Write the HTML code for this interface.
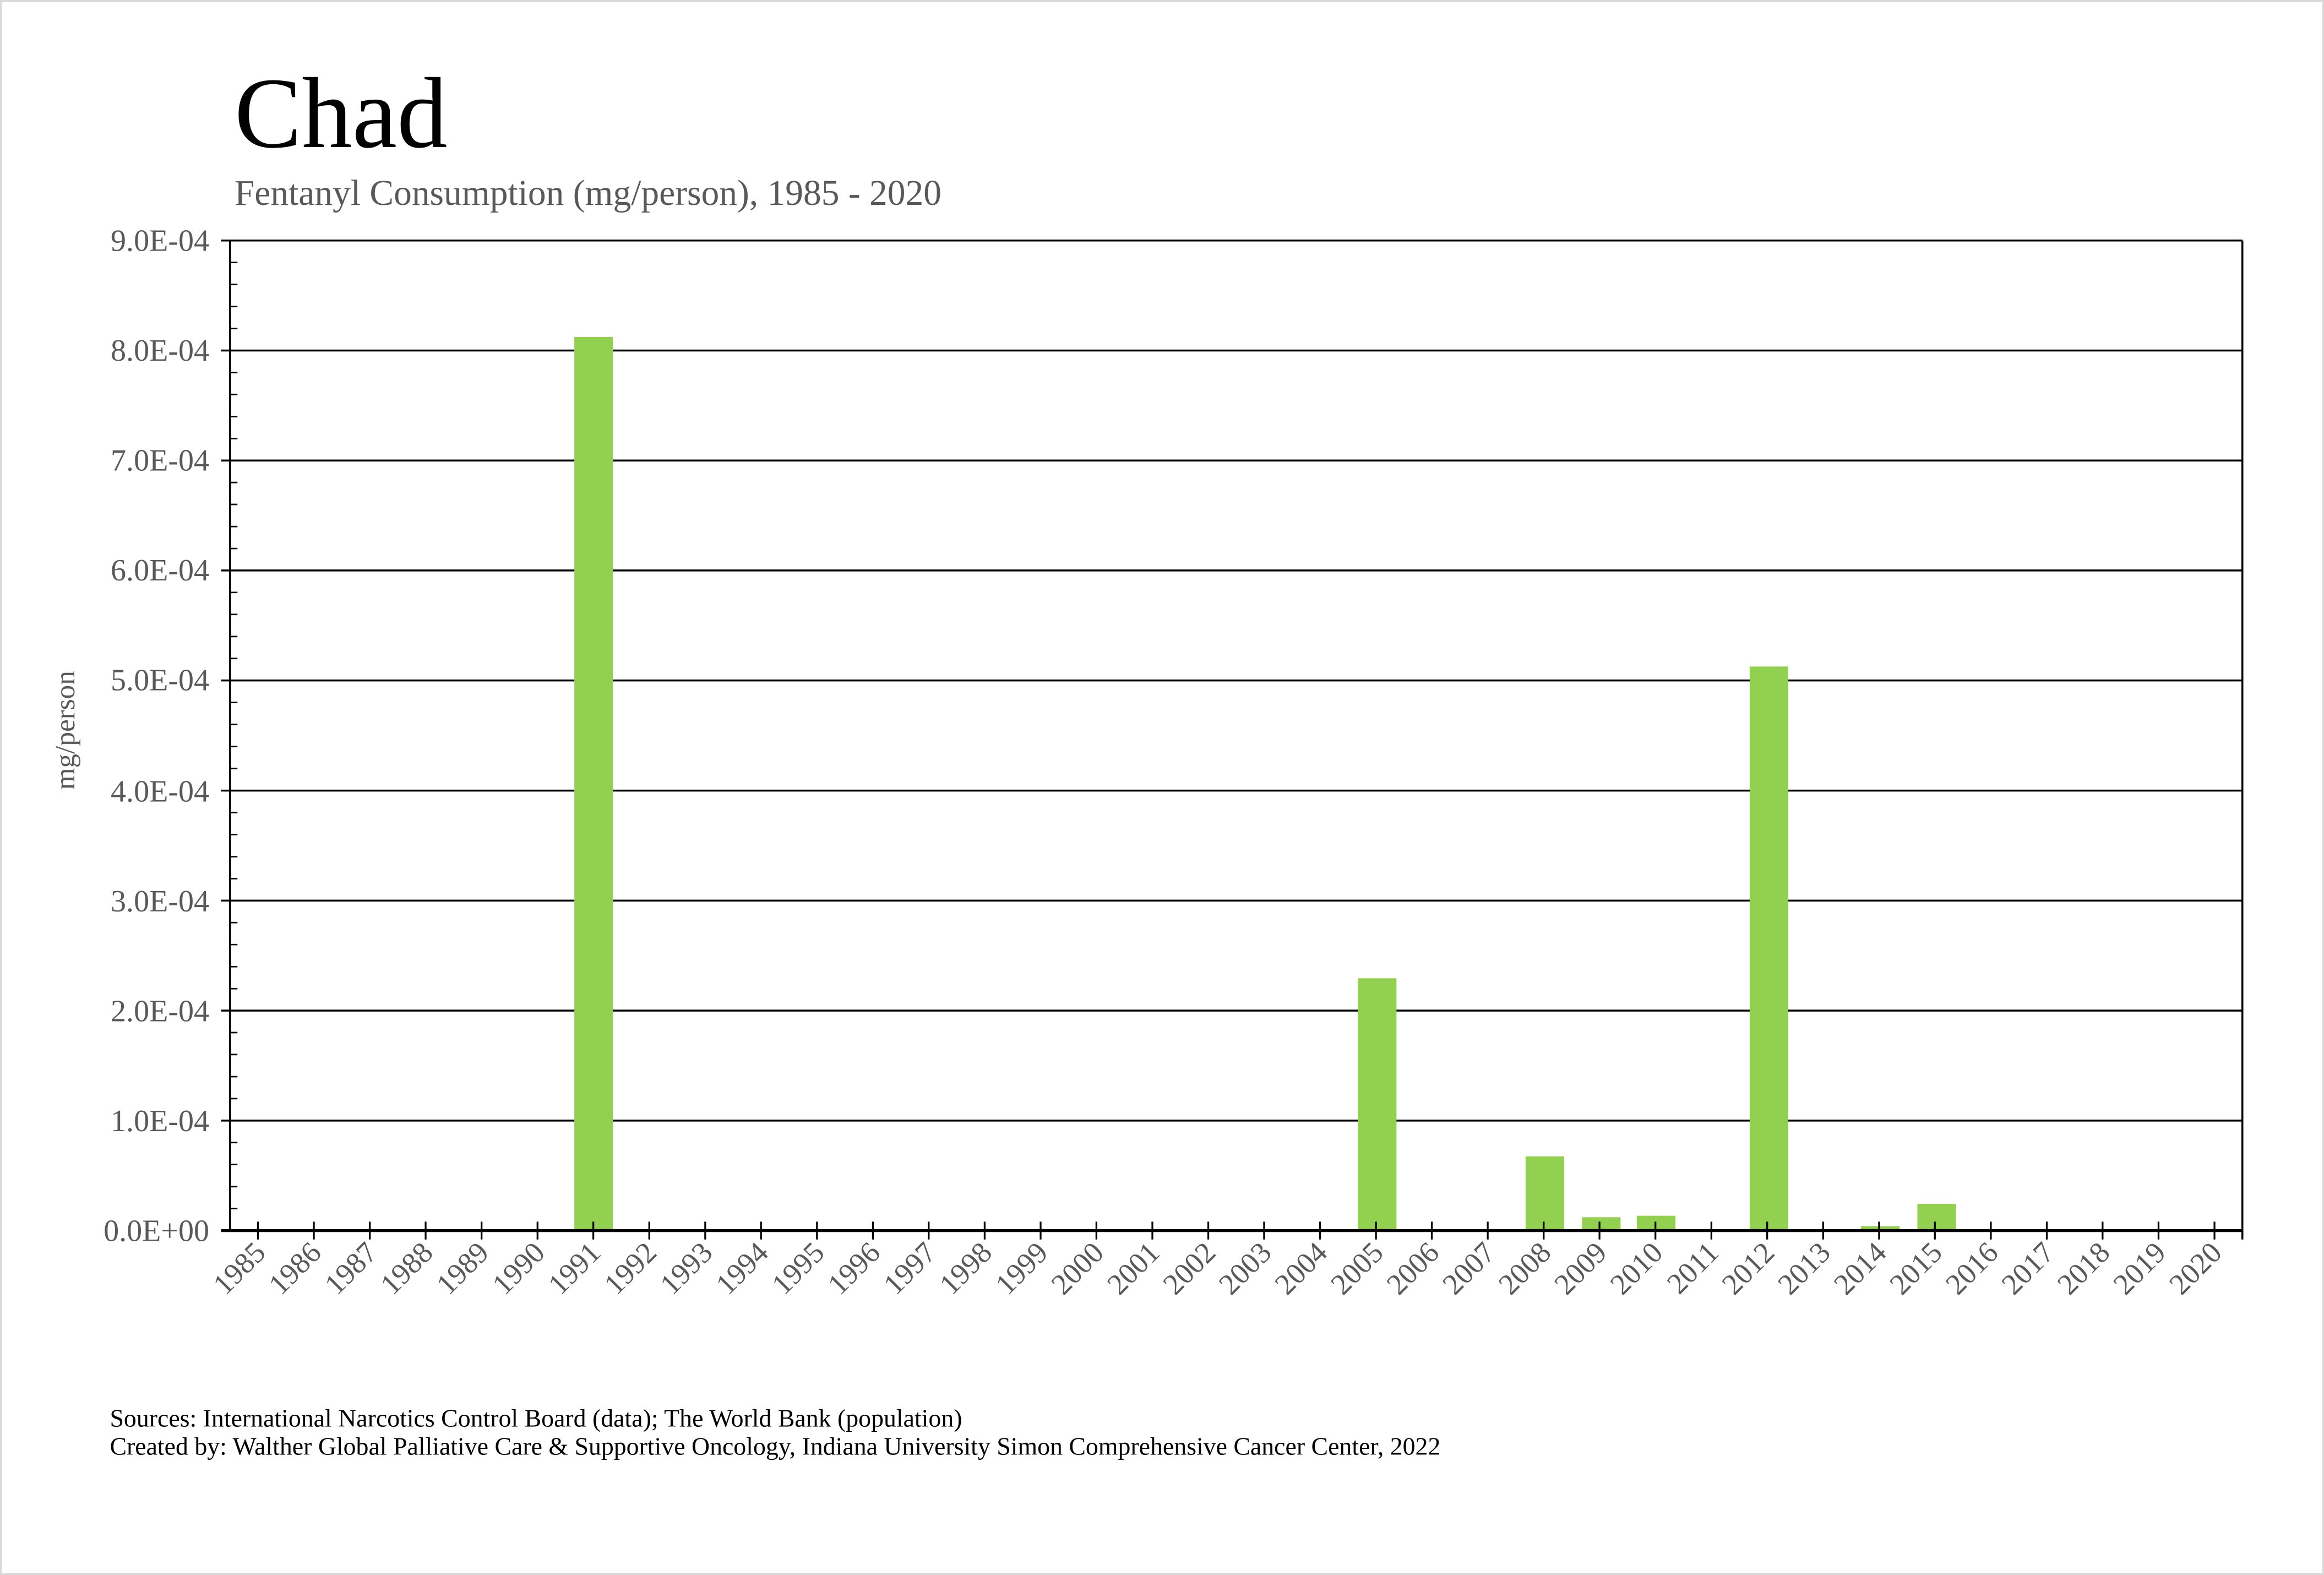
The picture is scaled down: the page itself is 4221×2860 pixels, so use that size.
<!DOCTYPE html>
<html><head><meta charset="utf-8"><style>
html,body{margin:0;padding:0;background:#fff;}
svg{display:block;}
text{font-family:"Liberation Serif",serif;}
</style></head><body>
<svg width="4221" height="2860" viewBox="0 0 1566 1061" xmlns="http://www.w3.org/2000/svg">
<rect x="0.5" y="0.5" width="1565" height="1060" fill="#fff" stroke="#d9d9d9" stroke-width="1.5"/>
<text x="158" y="99" font-size="68" fill="#000">Chad</text>
<text x="158" y="138" font-size="24.3" fill="#595959">Fentanyl Consumption (mg/person), 1985 - 2020</text>
<g stroke="#000" stroke-width="1.3">
<line x1="149" y1="162" x2="1511" y2="162"/>
<line x1="149" y1="236.1" x2="1511" y2="236.1"/>
<line x1="149" y1="310.2" x2="1511" y2="310.2"/>
<line x1="149" y1="384.3" x2="1511" y2="384.3"/>
<line x1="149" y1="458.4" x2="1511" y2="458.4"/>
<line x1="149" y1="532.6" x2="1511" y2="532.6"/>
<line x1="149" y1="606.7" x2="1511" y2="606.7"/>
<line x1="149" y1="680.8" x2="1511" y2="680.8"/>
<line x1="149" y1="754.9" x2="1511" y2="754.9"/>
<line x1="1511" y1="162" x2="1511" y2="835"/>
</g>
<g fill="#92d050">
<rect x="387" y="227" width="26" height="602"/>
<rect x="915" y="659" width="26" height="170"/>
<rect x="1028" y="779" width="26" height="50"/>
<rect x="1066" y="820" width="26" height="9"/>
<rect x="1103" y="819" width="26" height="10"/>
<rect x="1179" y="449" width="26" height="380"/>
<rect x="1254" y="826" width="26" height="3"/>
<rect x="1292" y="811" width="26" height="18"/>
</g>
<line x1="155" y1="162" x2="155" y2="829" stroke="#000" stroke-width="1.3"/>
<line x1="149" y1="829" x2="1511" y2="829" stroke="#000" stroke-width="2"/>
<g stroke="#000" stroke-width="1">
<path d="M155 176.8h5M155 191.6h5M155 206.5h5M155 221.3h5M155 250.9h5M155 265.7h5M155 280.6h5M155 295.4h5M155 325h5M155 339.8h5M155 354.7h5M155 369.5h5M155 399.1h5M155 413.9h5M155 428.8h5M155 443.6h5M155 473.2h5M155 488h5M155 502.9h5M155 517.7h5M155 547.4h5M155 562.2h5M155 577.1h5M155 591.9h5M155 621.5h5M155 636.3h5M155 651.2h5M155 666h5M155 695.6h5M155 710.4h5M155 725.3h5M155 740.1h5M155 769.7h5M155 784.5h5M155 799.4h5M155 814.2h5"/>
</g>
<g stroke="#000" stroke-width="1.2">
<path d="M173.8 823v12M211.5 823v12M249.2 823v12M286.8 823v12M324.5 823v12M362.2 823v12M399.8 823v12M437.5 823v12M475.2 823v12M512.8 823v12M550.5 823v12M588.2 823v12M625.8 823v12M663.5 823v12M701.2 823v12M738.8 823v12M776.5 823v12M814.2 823v12M851.8 823v12M889.5 823v12M927.2 823v12M964.8 823v12M1002.5 823v12M1040.2 823v12M1077.8 823v12M1115.5 823v12M1153.2 823v12M1190.8 823v12M1228.5 823v12M1266.2 823v12M1303.8 823v12M1341.5 823v12M1379.2 823v12M1416.8 823v12M1454.5 823v12M1492.2 823v12"/>
</g>
<g font-size="20.8" fill="#595959" text-anchor="end">
<text x="141" y="169">9.0E-04</text>
<text x="141" y="243">8.0E-04</text>
<text x="141" y="317">7.0E-04</text>
<text x="141" y="391">6.0E-04</text>
<text x="141" y="465">5.0E-04</text>
<text x="141" y="540">4.0E-04</text>
<text x="141" y="614">3.0E-04</text>
<text x="141" y="688">2.0E-04</text>
<text x="141" y="762">1.0E-04</text>
<text x="141" y="836">0.0E+00</text>
</g>
<text transform="translate(50,492) rotate(-90)" font-size="19" fill="#595959" text-anchor="middle">mg/person</text>
<g font-size="20" fill="#595959" text-anchor="end">
<text transform="translate(180,845) rotate(-45)">1985</text>
<text transform="translate(217.5,845) rotate(-45)">1986</text>
<text transform="translate(255.2,845) rotate(-45)">1987</text>
<text transform="translate(292.8,845) rotate(-45)">1988</text>
<text transform="translate(330.5,845) rotate(-45)">1989</text>
<text transform="translate(368.2,845) rotate(-45)">1990</text>
<text transform="translate(405.8,845) rotate(-45)">1991</text>
<text transform="translate(443.5,845) rotate(-45)">1992</text>
<text transform="translate(481.2,845) rotate(-45)">1993</text>
<text transform="translate(518.8,845) rotate(-45)">1994</text>
<text transform="translate(556.5,845) rotate(-45)">1995</text>
<text transform="translate(594.2,845) rotate(-45)">1996</text>
<text transform="translate(631.8,845) rotate(-45)">1997</text>
<text transform="translate(669.5,845) rotate(-45)">1998</text>
<text transform="translate(707.2,845) rotate(-45)">1999</text>
<text transform="translate(744.8,845) rotate(-45)">2000</text>
<text transform="translate(782.5,845) rotate(-45)">2001</text>
<text transform="translate(820.2,845) rotate(-45)">2002</text>
<text transform="translate(857.8,845) rotate(-45)">2003</text>
<text transform="translate(895.5,845) rotate(-45)">2004</text>
<text transform="translate(933.2,845) rotate(-45)">2005</text>
<text transform="translate(970.8,845) rotate(-45)">2006</text>
<text transform="translate(1008.5,845) rotate(-45)">2007</text>
<text transform="translate(1046.2,845) rotate(-45)">2008</text>
<text transform="translate(1083.8,845) rotate(-45)">2009</text>
<text transform="translate(1121.5,845) rotate(-45)">2010</text>
<text transform="translate(1159.2,845) rotate(-45)">2011</text>
<text transform="translate(1196.8,845) rotate(-45)">2012</text>
<text transform="translate(1234.5,845) rotate(-45)">2013</text>
<text transform="translate(1272.2,845) rotate(-45)">2014</text>
<text transform="translate(1309.8,845) rotate(-45)">2015</text>
<text transform="translate(1347.5,845) rotate(-45)">2016</text>
<text transform="translate(1385.2,845) rotate(-45)">2017</text>
<text transform="translate(1422.8,845) rotate(-45)">2018</text>
<text transform="translate(1460.5,845) rotate(-45)">2019</text>
<text transform="translate(1498.2,845) rotate(-45)">2020</text>
</g>
<g font-size="17" fill="#000">
<text x="74" y="961">Sources: International Narcotics Control Board (data); The World Bank (population)</text>
<text x="74" y="980">Created by: Walther Global Palliative Care &amp; Supportive Oncology, Indiana University Simon Comprehensive Cancer Center, 2022</text>
</g>
</svg>
</body></html>
